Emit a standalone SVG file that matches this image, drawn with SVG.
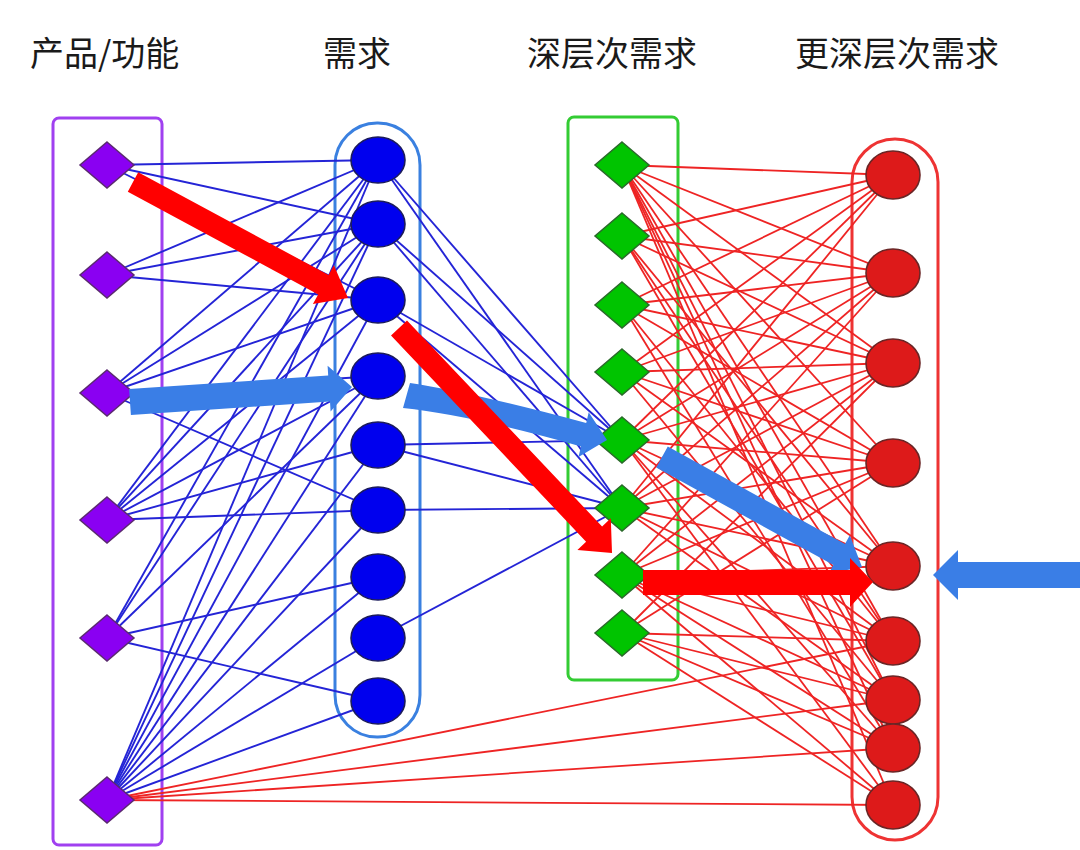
<svg xmlns="http://www.w3.org/2000/svg" width="1080" height="850" viewBox="0 0 1080 850">
<style>
.hdr{font-family:"Noto Sans CJK SC","Noto Sans",sans-serif;font-size:34px;fill:#1a1a1a;}
.bl{stroke:#2424d6;stroke-width:1.9;fill:none;}
.rl{stroke:#ee2424;stroke-width:1.8;fill:none;}
.pd{fill:#8a00f2;stroke:#5b2a70;stroke-width:1.5;}
.bc{fill:#0000ee;stroke:#1c1c5c;stroke-width:1.6;}
.gd{fill:#00c400;stroke:#2a6a2a;stroke-width:1.5;}
.rc{fill:#dd1a1a;stroke:#6a2626;stroke-width:1.6;}
.ra{fill:#ff0000;}
.ba{fill:#3a7ee6;}
</style>
<defs>
<polygon id="dia" points="0,-23 27,0 0,23 -27,0"/>
</defs>

<g id="headers">
<text class="hdr" x="30" y="66">产品/功能</text>
<text class="hdr" x="323" y="66">需求</text>
<text class="hdr" x="527" y="66">深层次需求</text>
<text class="hdr" x="795" y="66">更深层次需求</text>
</g>

<g id="groups" fill="none" stroke-width="3">
<rect id="box-product" x="53" y="118" width="109" height="727" rx="6" stroke="#a040f0"/>
<rect id="box-need" x="335" y="123" width="85" height="614" rx="42" stroke="#3a80e0"/>
<rect id="box-deep" x="568" y="117" width="110" height="563" rx="6" stroke="#33cc33"/>
<rect id="box-deeper" x="852" y="139" width="86" height="701" rx="43" stroke="#ee3333"/>
</g>

<g id="connectors">
<!-- purple to blue -->
<line class="bl" x1="107" y1="165" x2="378" y2="160"/>
<line class="bl" x1="107" y1="165" x2="378" y2="224"/>
<line class="bl" x1="107" y1="165" x2="378" y2="300"/>
<line class="bl" x1="107" y1="275" x2="378" y2="160"/>
<line class="bl" x1="107" y1="275" x2="378" y2="224"/>
<line class="bl" x1="107" y1="275" x2="378" y2="300"/>
<line class="bl" x1="107" y1="393" x2="378" y2="160"/>
<line class="bl" x1="107" y1="393" x2="378" y2="224"/>
<line class="bl" x1="107" y1="393" x2="378" y2="300"/>
<line class="bl" x1="107" y1="393" x2="378" y2="376"/>
<line class="bl" x1="107" y1="393" x2="378" y2="510"/>
<line class="bl" x1="107" y1="520" x2="378" y2="160"/>
<line class="bl" x1="107" y1="520" x2="378" y2="224"/>
<line class="bl" x1="107" y1="520" x2="378" y2="300"/>
<line class="bl" x1="107" y1="520" x2="378" y2="376"/>
<line class="bl" x1="107" y1="520" x2="378" y2="445"/>
<line class="bl" x1="107" y1="520" x2="378" y2="510"/>
<line class="bl" x1="107" y1="638" x2="378" y2="160"/>
<line class="bl" x1="107" y1="638" x2="378" y2="224"/>
<line class="bl" x1="107" y1="638" x2="378" y2="376"/>
<line class="bl" x1="107" y1="638" x2="378" y2="577"/>
<line class="bl" x1="107" y1="638" x2="378" y2="701"/>
<line class="bl" x1="107" y1="800" x2="378" y2="160"/>
<line class="bl" x1="107" y1="800" x2="378" y2="224"/>
<line class="bl" x1="107" y1="800" x2="378" y2="300"/>
<line class="bl" x1="107" y1="800" x2="378" y2="376"/>
<line class="bl" x1="107" y1="800" x2="378" y2="445"/>
<line class="bl" x1="107" y1="800" x2="378" y2="510"/>
<line class="bl" x1="107" y1="800" x2="378" y2="577"/>
<line class="bl" x1="107" y1="800" x2="378" y2="638"/>
<line class="bl" x1="107" y1="800" x2="378" y2="701"/>
<!-- blue to green -->
<line class="bl" x1="378" y1="160" x2="622" y2="440"/>
<line class="bl" x1="378" y1="160" x2="622" y2="508"/>
<line class="bl" x1="378" y1="224" x2="622" y2="440"/>
<line class="bl" x1="378" y1="224" x2="622" y2="508"/>
<line class="bl" x1="378" y1="300" x2="622" y2="440"/>
<line class="bl" x1="378" y1="300" x2="622" y2="508"/>
<line class="bl" x1="378" y1="445" x2="622" y2="440"/>
<line class="bl" x1="378" y1="445" x2="622" y2="508"/>
<line class="bl" x1="378" y1="510" x2="622" y2="508"/>
<line class="bl" x1="378" y1="638" x2="622" y2="508"/>
<!-- purple to red -->
<line class="rl" x1="107" y1="800" x2="893" y2="641"/>
<line class="rl" x1="107" y1="800" x2="893" y2="700"/>
<line class="rl" x1="107" y1="800" x2="893" y2="748"/>
<line class="rl" x1="107" y1="800" x2="893" y2="805"/>
<!-- green to red -->
<line class="rl" x1="622" y1="165" x2="893" y2="175"/>
<line class="rl" x1="622" y1="165" x2="893" y2="273"/>
<line class="rl" x1="622" y1="165" x2="893" y2="363"/>
<line class="rl" x1="622" y1="165" x2="893" y2="463"/>
<line class="rl" x1="622" y1="165" x2="893" y2="566"/>
<line class="rl" x1="622" y1="165" x2="893" y2="641"/>
<line class="rl" x1="622" y1="165" x2="893" y2="700"/>
<line class="rl" x1="622" y1="165" x2="893" y2="748"/>
<line class="rl" x1="622" y1="165" x2="893" y2="805"/>
<line class="rl" x1="622" y1="236" x2="893" y2="175"/>
<line class="rl" x1="622" y1="236" x2="893" y2="273"/>
<line class="rl" x1="622" y1="236" x2="893" y2="363"/>
<line class="rl" x1="622" y1="236" x2="893" y2="566"/>
<line class="rl" x1="622" y1="236" x2="893" y2="641"/>
<line class="rl" x1="622" y1="236" x2="893" y2="700"/>
<line class="rl" x1="622" y1="305" x2="893" y2="175"/>
<line class="rl" x1="622" y1="305" x2="893" y2="273"/>
<line class="rl" x1="622" y1="305" x2="893" y2="363"/>
<line class="rl" x1="622" y1="305" x2="893" y2="463"/>
<line class="rl" x1="622" y1="305" x2="893" y2="641"/>
<line class="rl" x1="622" y1="305" x2="893" y2="748"/>
<line class="rl" x1="622" y1="372" x2="893" y2="175"/>
<line class="rl" x1="622" y1="372" x2="893" y2="273"/>
<line class="rl" x1="622" y1="372" x2="893" y2="363"/>
<line class="rl" x1="622" y1="372" x2="893" y2="463"/>
<line class="rl" x1="622" y1="372" x2="893" y2="566"/>
<line class="rl" x1="622" y1="372" x2="893" y2="700"/>
<line class="rl" x1="622" y1="440" x2="893" y2="175"/>
<line class="rl" x1="622" y1="440" x2="893" y2="273"/>
<line class="rl" x1="622" y1="440" x2="893" y2="363"/>
<line class="rl" x1="622" y1="440" x2="893" y2="463"/>
<line class="rl" x1="622" y1="440" x2="893" y2="566"/>
<line class="rl" x1="622" y1="440" x2="893" y2="641"/>
<line class="rl" x1="622" y1="440" x2="893" y2="748"/>
<line class="rl" x1="622" y1="440" x2="893" y2="805"/>
<line class="rl" x1="622" y1="508" x2="893" y2="175"/>
<line class="rl" x1="622" y1="508" x2="893" y2="273"/>
<line class="rl" x1="622" y1="508" x2="893" y2="363"/>
<line class="rl" x1="622" y1="508" x2="893" y2="463"/>
<line class="rl" x1="622" y1="508" x2="893" y2="566"/>
<line class="rl" x1="622" y1="508" x2="893" y2="641"/>
<line class="rl" x1="622" y1="508" x2="893" y2="700"/>
<line class="rl" x1="622" y1="575" x2="893" y2="273"/>
<line class="rl" x1="622" y1="575" x2="893" y2="363"/>
<line class="rl" x1="622" y1="575" x2="893" y2="463"/>
<line class="rl" x1="622" y1="575" x2="893" y2="566"/>
<line class="rl" x1="622" y1="575" x2="893" y2="641"/>
<line class="rl" x1="622" y1="575" x2="893" y2="700"/>
<line class="rl" x1="622" y1="575" x2="893" y2="748"/>
<line class="rl" x1="622" y1="575" x2="893" y2="805"/>
<line class="rl" x1="622" y1="633" x2="893" y2="363"/>
<line class="rl" x1="622" y1="633" x2="893" y2="463"/>
<line class="rl" x1="622" y1="633" x2="893" y2="641"/>
<line class="rl" x1="622" y1="633" x2="893" y2="700"/>
<line class="rl" x1="622" y1="633" x2="893" y2="748"/>
<line class="rl" x1="622" y1="633" x2="893" y2="805"/>
</g>

<g id="product-nodes">
<use id="p1" href="#dia" class="pd" x="107" y="165"/>
<use id="p2" href="#dia" class="pd" x="107" y="275"/>
<use id="p3" href="#dia" class="pd" x="107" y="393"/>
<use id="p4" href="#dia" class="pd" x="107" y="520"/>
<use id="p5" href="#dia" class="pd" x="107" y="638"/>
<use id="p6" href="#dia" class="pd" x="107" y="800"/>
</g>
<g id="need-nodes">
<ellipse id="b1" class="bc" cx="378" cy="160" rx="27" ry="23"/>
<ellipse id="b2" class="bc" cx="378" cy="224" rx="27" ry="23"/>
<ellipse id="b3" class="bc" cx="378" cy="300" rx="27" ry="23"/>
<ellipse id="b4" class="bc" cx="378" cy="376" rx="27" ry="23"/>
<ellipse id="b5" class="bc" cx="378" cy="445" rx="27" ry="23"/>
<ellipse id="b6" class="bc" cx="378" cy="510" rx="27" ry="23"/>
<ellipse id="b7" class="bc" cx="378" cy="577" rx="27" ry="23"/>
<ellipse id="b8" class="bc" cx="378" cy="638" rx="27" ry="23"/>
<ellipse id="b9" class="bc" cx="378" cy="701" rx="27" ry="23"/>
</g>
<g id="deep-nodes">
<use id="g1" href="#dia" class="gd" x="622" y="165"/>
<use id="g2" href="#dia" class="gd" x="622" y="236"/>
<use id="g3" href="#dia" class="gd" x="622" y="305"/>
<use id="g4" href="#dia" class="gd" x="622" y="372"/>
<use id="g5" href="#dia" class="gd" x="622" y="440"/>
<use id="g6" href="#dia" class="gd" x="622" y="508"/>
<use id="g7" href="#dia" class="gd" x="622" y="575"/>
<use id="g8" href="#dia" class="gd" x="622" y="633"/>
</g>
<g id="deeper-nodes">
<ellipse id="r1" class="rc" cx="893" cy="175" rx="27" ry="24"/>
<ellipse id="r2" class="rc" cx="893" cy="273" rx="27" ry="24"/>
<ellipse id="r3" class="rc" cx="893" cy="363" rx="27" ry="24"/>
<ellipse id="r4" class="rc" cx="893" cy="463" rx="27" ry="24"/>
<ellipse id="r5" class="rc" cx="893" cy="566" rx="27" ry="24"/>
<ellipse id="r6" class="rc" cx="893" cy="641" rx="27" ry="24"/>
<ellipse id="r7" class="rc" cx="893" cy="700" rx="27" ry="24"/>
<ellipse id="r8" class="rc" cx="893" cy="748" rx="27" ry="24"/>
<ellipse id="r9" class="rc" cx="893" cy="805" rx="27" ry="24"/>
</g>

<g id="path-arrows">
<polygon class="ra" points="127.8,191.7 318.2,294.4 312.9,304.1 348,298 333.9,265.3 328.6,275.0 138.2,172.3"/>
<polygon class="ba" points="130.9,415.0 330.0,401.6 330.6,411.5 352,387 327.6,365.7 328.2,375.6 129.1,389.0"/>
<path class="ba" d="M403,408 Q470,415 581,446.4 L578.5,457.1 L607,440 L588.7,412.3 L586.2,423.0 Q470,392 410,383 Z"/>
<polygon class="ra" points="391.0,335.6 586.1,541.7 577.4,549.9 612,553 610.8,518.3 602.1,526.5 407.0,320.4"/>
<polygon class="ba" points="656.2,467.5 833.4,565.0 828.6,573.8 862,567 849.8,535.2 845.0,544.0 667.8,446.5"/>
<polygon class="ra" points="643,570 850,570 850,558 873,582 850,607 850,595 643,595"/>
<polygon class="ba" points="1080,562 958,562 958,550 933,575 958,600 958,588 1080,588"/>
</g>
</svg>
